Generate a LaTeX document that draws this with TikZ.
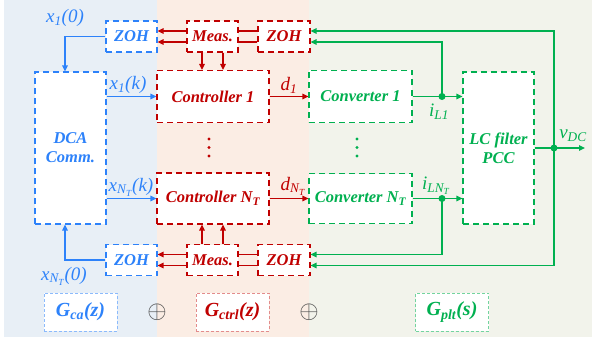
\documentclass[tikz,border=0pt]{standalone}
\usepackage{fontspec}
\setmainfont{Liberation Serif}
\usetikzlibrary{arrows.meta,positioning}

\definecolor{cblue}{RGB}{45,130,250}
\definecolor{cred}{RGB}{192,0,0}
\definecolor{cgreen}{RGB}{0,176,80}
\definecolor{bgblue}{RGB}{232,239,246}
\definecolor{bgred}{RGB}{251,237,228}
\definecolor{bggreen}{RGB}{242,243,235}

\tikzset{
  blockbox/.style={draw, dash pattern=on 6pt off 4pt, line width=1.2pt, fill=white, inner sep=0pt, align=center, font=\fontsize{16.5}{19}\selectfont\bfseries\itshape},
  bluebox/.style={blockbox, draw=cblue, text=cblue},
  redbox/.style={blockbox, draw=cred, text=cred},
  greenbox/.style={blockbox, draw=cgreen, text=cgreen},
  gbox/.style={draw, dash pattern=on 3pt off 2pt, line width=0.9pt, fill=white, minimum width=73pt, minimum height=38pt, font=\fontsize{20}{23}\selectfont\bfseries\itshape},
  lbl/.style={font=\fontsize{19}{22}\selectfont\itshape, inner sep=0pt},
  wire/.style={line width=1.5pt},
  arr/.style={wire, -{Triangle[length=6pt,width=5.5pt]}}
}

\begin{document}
\begin{tikzpicture}[x=1pt,y=-1pt]
    \useasboundingbox (0,0) rectangle (592,345);

    % background bands
    \fill[bgblue] (4,0) rectangle (157,337);
    \fill[bgred] (157,0) rectangle (309,337);
    \fill[bggreen] (309,0) rectangle (592,337);

    % communication
    \node[bluebox, minimum width=71pt, minimum height=152pt] (dca) at (70.5,148) {DCA\\Comm.};
    \node[bluebox, minimum width=51pt, minimum height=31pt] (zohA) at (131.5,36.5) {ZOH};
    \node[bluebox, minimum width=51pt, minimum height=31pt] (zohC) at (131.5,260) {ZOH};

    % control
    \node[redbox, minimum width=112pt, minimum height=52pt] (ctrlA) at (213,96.5) {Controller 1};
    \node[redbox, minimum width=112pt, minimum height=51pt] (ctrlB) at (213,198.5) {Controller N\textsubscript{T}};
    \node[redbox, minimum width=51pt, minimum height=31pt] (measA) at (212.5,36.5) {Meas.};
    \node[redbox, minimum width=51pt, minimum height=31pt] (measB) at (212.5,260) {Meas.};
    \node[redbox, minimum width=52pt, minimum height=31pt] (zohB) at (284,36.5) {ZOH};
    \node[redbox, minimum width=52pt, minimum height=31pt] (zohD) at (284,260) {ZOH};

    % plant
    \node[greenbox, minimum width=103pt, minimum height=52pt] (convA) at (360.5,96.5) {Converter 1};
    \node[greenbox, minimum width=103pt, minimum height=50pt] (convB) at (360.5,198.5) {Converter N\textsubscript{T}};
    \node[greenbox, minimum width=71pt, minimum height=152pt] (lc) at (498.5,148) {LC filter\\PCC};

    \coordinate (iA) at (442,96.5);
    \coordinate (iB) at (442,198.5);
    \coordinate (vdc) at (554,148);
    \coordinate (vout) at (585,148);

    % blue links
    \draw[arr, cblue] (dca.east |- ctrlA.west) -- (ctrlA.west);
    \draw[arr, cblue] (dca.east |- ctrlB.west) -- (ctrlB.west);
    \draw[arr, cblue] (zohA.west) -| ([xshift=-5.5pt]dca.north);
    \draw[arr, cblue] (zohC.west) -| ([xshift=-5.5pt]dca.south);

    % red links
    \draw[arr, cred] ([yshift=5.5pt]measA.west) -- ([yshift=5.5pt]zohA.east);
    \draw[arr, cred] ([yshift=-5.5pt]measA.west) -- ([yshift=-5.5pt]zohA.east);
    \draw[arr, cred] ([yshift=5.5pt]measB.west) -- ([yshift=5.5pt]zohC.east);
    \draw[arr, cred] ([yshift=-5.5pt]measB.west) -- ([yshift=-5.5pt]zohC.east);
    \draw[wire, cred] ([yshift=5.5pt]measA.east) -- ([yshift=5.5pt]zohB.west);
    \draw[wire, cred] ([yshift=-5.5pt]measA.east) -- ([yshift=-5.5pt]zohB.west);
    \draw[wire, cred] ([yshift=5.5pt]measB.east) -- ([yshift=5.5pt]zohD.west);
    \draw[wire, cred] ([yshift=-5.5pt]measB.east) -- ([yshift=-5.5pt]zohD.west);
    \draw[arr, cred] ([xshift=-10.5pt]measA.south) -- ([xshift=-10.5pt]measA.south |- ctrlA.north);
    \draw[arr, cred] ([xshift=10.5pt]measA.south) -- ([xshift=10.5pt]measA.south |- ctrlA.north);
    \draw[arr, cred] ([xshift=-10.5pt]measB.north) -- ([xshift=-10.5pt]measB.north |- ctrlB.south);
    \draw[arr, cred] ([xshift=10.5pt]measB.north) -- ([xshift=10.5pt]measB.north |- ctrlB.south);
    \draw[arr, cred] (ctrlA.east) -- (convA.west);
    \draw[arr, cred] (ctrlB.east) -- (convB.west);

    % green links
    \draw[arr, cgreen] (convA.east) -- (convA.east -| lc.west);
    \draw[arr, cgreen] (convB.east) -- (convB.east -| lc.west);
    \draw[wire, cgreen] (lc.east) -- (vdc);
    \draw[arr, cgreen] (vdc) -- (vout);
    \draw[arr, cgreen] (vdc) |- ([yshift=5.5pt]zohB.east);
    \draw[arr, cgreen] (vdc) |- ([yshift=-5.5pt]zohD.east);
    \draw[arr, cgreen] (iA) |- ([yshift=-5.5pt]zohB.east);
    \draw[arr, cgreen] (iB) |- ([yshift=5.5pt]zohD.east);
    \fill[cgreen] (iA) circle (3.5);
    \fill[cgreen] (iB) circle (3.5);
    \fill[cgreen] (vdc) circle (3.5);

    \foreach \yy in {139,147.5,156} {
        \fill[cred] (209,\yy) circle (1.7);
        \fill[cgreen] (357,\yy) circle (1.7);
    }

    % signal labels
    \node[lbl, text=cblue] (lxA) at (65,18) {x\textsubscript{1}(0)};
    \node[lbl, text=cblue] (lkA) at (128,85) {x\textsubscript{1}(k)};
    \node[lbl, text=cblue] (lkB) at (131,187) {x\textsubscript{N\textsubscript{T}}(k)};
    \node[lbl, text=cblue] (lxB) at (64,276) {x\textsubscript{N\textsubscript{T}}(0)};
    \node[lbl, text=cred] (ldA) at (289,85) {d\textsubscript{1}};
    \node[lbl, text=cred] (ldB) at (293,186) {d\textsubscript{N\textsubscript{T}}};
    \node[lbl, text=cgreen] (liA) at (439,112) {i\textsubscript{L1}};
    \node[lbl, text=cgreen] (liB) at (436,186) {i\textsubscript{LN\textsubscript{T}}};
    \node[lbl, text=cgreen] (lv) at (573,136) {v\textsubscript{DC}};

    % transfer functions
    \node[gbox, draw=cblue!55, text=cblue] (gca) at (80.5,312) {G\textsubscript{ca}(z)};
    \node[gbox, draw=cred!45, text=cred] (gctrl) at (232.5,312) {G\textsubscript{ctrl}(z)};
    \node[gbox, draw=cgreen!55, text=cgreen] (gplt) at (452,312) {G\textsubscript{plt}(s)};
    \node[text=black!70, inner sep=0pt] (plusA) at (157,312) {\fontsize{26}{26}\selectfont$\oplus$};
    \node[text=black!70, inner sep=0pt] (plusB) at (309,312) {\fontsize{26}{26}\selectfont$\oplus$};

\end{tikzpicture}
\end{document}
